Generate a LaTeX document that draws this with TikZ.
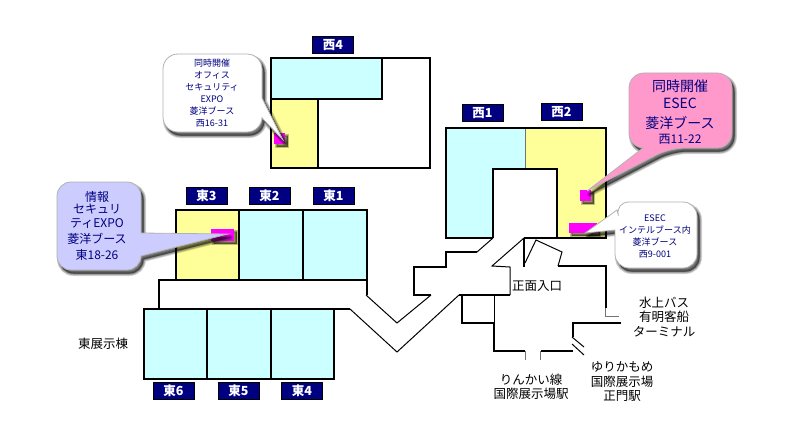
\documentclass[tikz,border=0pt]{standalone}
\usepackage{fontspec}
\setmainfont{Noto Sans CJK JP}
\definecolor{hallcyan}{HTML}{CCFFFF}
\definecolor{hallyellow}{HTML}{FFFF99}
\definecolor{boothmag}{HTML}{FF00FF}
\definecolor{navyc}{HTML}{000080}
\definecolor{pinkc}{HTML}{FF99CC}
\definecolor{bluec}{HTML}{CCCCFF}
\tikzset{
  thickwall/.style={draw=black,line width=2pt,line join=miter},
  thinwall/.style={draw=black,line width=1pt},
  greywall/.style={draw=black!55,line width=1pt},
  tagbox/.style={fill=navyc,draw=black,line width=0.4pt,text=white,font=\fontsize{12.5}{12.5}\selectfont\bfseries,minimum width=41pt,minimum height=17pt,inner sep=0pt},
  maplabel/.style={align=center,text=black,inner sep=0pt,font=\fontsize{12.5}{14.5}\selectfont},
  calltext/.style={text=navyc,inner sep=0pt},
  callborder/.style={draw=black!30,line width=0.8pt}
}
\newcommand{\softshadow}[1]{%
  \foreach \w in {5,3.5,2,0.5}{
    \path[fill=black,draw=black,fill opacity=0.16,draw opacity=0.16,line width=\w pt,line join=round,shift={(2.5,3.5)}] #1;
  }}
\newcommand{\booth}[4]{%
  \foreach \w in {3,1.5}{
    \path[fill=black,draw=black,fill opacity=0.25,draw opacity=0.25,line width=\w pt,shift={(2.5,2.5)}] (#1,#2) rectangle (#3,#4);
  }
  \fill[boothmag] (#1,#2) rectangle (#3,#4);}
\begin{document}
\begin{tikzpicture}[x=1pt,y=-1pt]
\useasboundingbox (0,0) rectangle (794,433);
\fill[white] (0,0) rectangle (794,433);

% West 4
\fill[hallcyan] (271,58) rectangle (382,99);
\fill[hallyellow] (271,99) rectangle (318,168);
\draw[thickwall] (271,58) rectangle (430,168);
\draw[thickwall] (382,58) -- (382,99) -- (271,99);
\draw[thickwall,line width=1.3pt] (318,99) -- (318,168);

% West 1 / 2
\fill[hallcyan] (446,128) rectangle (525,238);
\fill[hallyellow] (525,128) rectangle (606,238);
\fill[white] (493,169) rectangle (557,239);
\draw[greywall] (525,128) -- (525,169);
\draw[thickwall] (493,238) -- (446,238) -- (446,128) -- (606,128) -- (606,238) -- (557,238);
\draw[thickwall,line width=1.2pt] (493,238) -- (493,169) -- (557,169) -- (557,238);
\draw[thickwall] (524,238) -- (606,238);

% East upper
\fill[hallyellow] (176,210) rectangle (239,280);
\fill[hallcyan] (239,210) rectangle (367,280);
\draw[thickwall] (176,210) rectangle (367,280);
\draw[thickwall] (239,210) -- (239,280);
\draw[thickwall] (303,210) -- (303,280);

% East lower
\fill[hallcyan] (144,309) rectangle (334,379);
\draw[thickwall] (144,309) rectangle (334,379);
\draw[thickwall] (207,309) -- (207,379);
\draw[thickwall] (271,309) -- (271,379);

% Corridor and entrance
\draw[thickwall] (176,280) -- (159,280) -- (159,309);
\draw[thickwall,line width=1.2pt] (334,309) -- (350,309);
\draw[thinwall] (350,309) -- (397,352) -- (459,295);
\draw[thickwall] (459,295) -- (510,295);
\draw[thinwall] (510,295) -- (510,267) -- (492,266) -- (524,238);
\draw[thickwall] (367,280) -- (367,295);
\draw[thinwall] (366,295) -- (397,323) -- (431,295);
\draw[thickwall] (431,295) -- (414,295) -- (414,267) -- (446,267) -- (446,252) -- (477,252);
\draw[thinwall] (477,252) -- (493,238);
\draw[thickwall] (524,238) -- (524,267);
\draw[thinwall] (525,263) -- (536,240) -- (562,252) -- (558,266);
\draw[thickwall] (558,266) -- (606,266) -- (606,308);
\draw[greywall] (605,308) -- (605,316) -- (619,316);
\draw[thickwall] (621,323) -- (573,323) -- (573,337);
\draw[thinwall] (572,337) -- (584,347);
\draw[thinwall] (572,344) -- (584,355);
\draw[thickwall] (573,351) -- (541,351);
\draw[greywall] (540,351) -- (540,360);
\draw[greywall] (525,351) -- (525,360);
\draw[thickwall] (525,351) -- (494,351) -- (494,323) -- (462,323) -- (462,295);
\draw[thinwall] (494,295) -- (494,323);

% Booths
\booth{274}{133}{285}{144}
\booth{580}{190}{591}{201}
\booth{569}{223}{597}{233}
\booth{211}{229}{234}{241}

% Callouts
\def\callA{(163,90) [rounded corners=15pt] -- (163,54) -- (262,54) [sharp corners] -- (262,98) -- (283,140) -- (262,118) [rounded corners=15pt] -- (262,132) -- (163,132) -- cycle}
\softshadow{\callA}
\path[fill=white,callborder] \callA;

\def\callB{(680,73) [rounded corners=15pt] -- (732,73) -- (732,148) -- (670,148) [sharp corners] -- (587,191) -- (643,148) [rounded corners=15pt] -- (629,148) -- (629,73) -- cycle}
\softshadow{\callB}
\path[fill=pinkc,callborder] \callB;

\def\callC{(655,202) [rounded corners=14pt] -- (697,202) -- (697,268) -- (615,268) [sharp corners] -- (615,230) -- (585,233) -- (617,210) [rounded corners=14pt] -- (615,202) -- cycle}
\softshadow{\callC}
\path[fill=white,callborder] \callC;

\def\callD{(100,182) [rounded corners=14pt] -- (141,182) [sharp corners] -- (141,233) -- (228,234) -- (141,256) [rounded corners=14pt] -- (141,270) -- (57,270) -- (57,182) -- cycle}
\softshadow{\callD}
\path[fill=bluec,callborder] \callD;

% Callout text
\begin{scope}[every node/.append style={calltext,font=\fontsize{9}{9}\selectfont}]
\node (a1) at (212,63) {同時開催};
\node (a2) at (212,75) {オフィス};
\node (a3) at (212,87) {セキュリティ};
\node (a4) at (212,99) {EXPO};
\node (a5) at (212,111) {菱洋ブース};
\node (a6) at (212,123) {西16-31};
\node (c1) at (655,218) {ESEC};
\node (c2) at (655,230) {インテルブース内};
\node (c3) at (655,242) {菱洋ブース};
\node (c4) at (655,254) {西9-001};
\end{scope}
\begin{scope}[every node/.append style={calltext,font=\fontsize{14}{14}\selectfont}]
\node (b1) at (680,86) {同時開催};
\node (b2) at (680,103) {ESEC};
\node (b3) at (680,123) {菱洋ブース};
\node[font=\fontsize{12}{12}\selectfont] (b4) at (680,139) {西11-22};
\end{scope}
\begin{scope}[every node/.append style={calltext,font=\fontsize{12}{12}\selectfont}]
\node (d1) at (97,197) {情報};
\node (d2) at (97,209) {セキュリ};
\node (d3) at (97,223) {ティEXPO};
\node (d4) at (97,239) {菱洋ブース};
\node (d5) at (97,255) {東18-26};
\end{scope}

% Hall tags
\node[tagbox] (w4) at (333,45) {西4};
\node[tagbox] (w1) at (482.5,113) {西1};
\node[tagbox] (w2) at (561.5,112) {西2};
\node[tagbox] (e3) at (206.5,195.5) {東3};
\node[tagbox] (e2) at (269.5,195.5) {東2};
\node[tagbox] (e1) at (333.5,195.5) {東1};
\node[tagbox] (e6) at (173.5,391) {東6};
\node[tagbox] (e5) at (238.5,391) {東5};
\node[tagbox] (e4) at (302,391) {東4};

% Map labels
\node[maplabel] (east) at (103,344) {東展示棟};
\node[maplabel] (entry) at (537,286) {正面入口};
\node[maplabel] (bus) at (664,317) {水上バス\\有明客船\\ターミナル};
\node[maplabel] (rinkai) at (531,387) {りんかい線\\国際展示場駅};
\node[maplabel] (yuri) at (622,382) {ゆりかもめ\\国際展示場\\正門駅};
\end{tikzpicture}
\end{document}
